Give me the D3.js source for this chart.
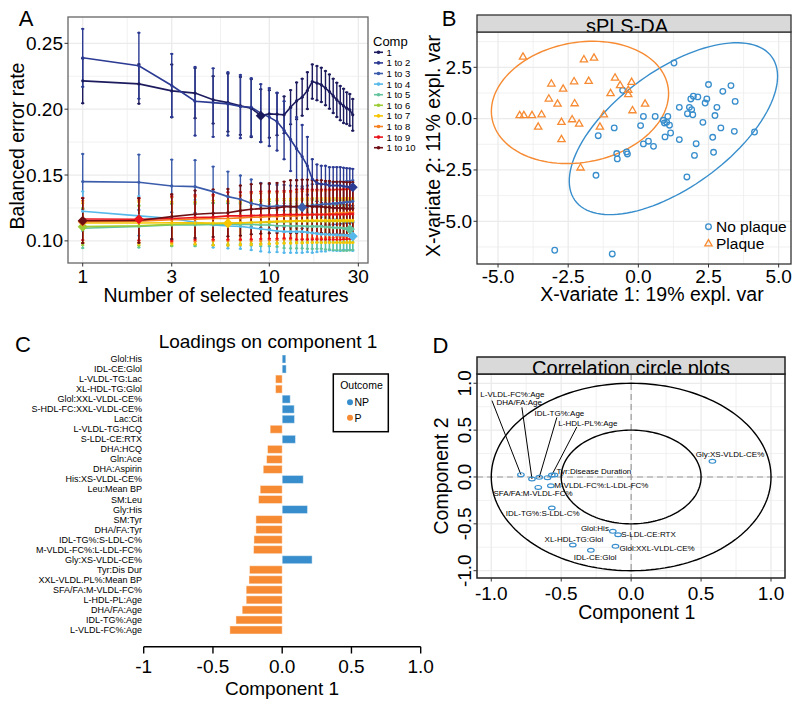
<!DOCTYPE html>
<html><head><meta charset="utf-8">
<script src="https://cdn.jsdelivr.net/npm/d3@7"></script>
<style>body{margin:0;background:#fff}svg{display:block}text{font-family:"Liberation Sans",Arial,Helvetica,sans-serif}</style>
</head><body><svg id="c" width="800" height="705"></svg>
<script>
// ================= DATA =================
// ---- Panel A: tuning curves ----
const nFeatures = [1,2,3,4,5,6,7,8,9,10,11,12,13,14,15,16,17,18,19,20,21,22,23,24,25,26,27,28];
const compNames = ["1","1 to 2","1 to 3","1 to 4","1 to 5","1 to 6","1 to 7","1 to 8","1 to 9","1 to 10"];
const compColors = ["#1c1b5e","#2b3a92","#3b5cab","#56b9ea","#62c39c","#9ccc35","#f7c500","#f5801f","#e8141c","#6e0f14"];
const ber1 = [0.2215,0.2192,0.2139,0.2122,0.2071,0.2050,0.2025,0.2008,0.1951,0.1964,0.1962,0.1957,0.2015,0.2063,0.2091,0.2141,0.2210,0.2198,0.2185,0.2160,0.2134,0.2101,0.2071,0.2046,0.2025,0.2008,0.1995,0.1957];
const ber2 = [0.239,0.233,0.218,0.206,0.205,0.204,0.202,0.2015,0.197,0.194,0.1906,0.184,0.177,0.170,0.164,0.157,0.147,0.144,0.143,0.143,0.142,0.142,0.142,0.142,0.1415,0.1412,0.1410,0.1407];
const ber3 = [0.145,0.1445,0.1417,0.1412,0.1374,0.1336,0.1316,0.1286,0.127,0.126,0.1265,0.1265,0.126,0.1258,0.1255,0.126,0.127,0.127,0.1275,0.128,0.128,0.1285,0.1285,0.129,0.129,0.1295,0.1295,0.130];
const ber4 = [0.1225,0.119,0.117,0.1141,0.112,0.1113,0.111,0.110,0.109,0.1083,0.1075,0.107,0.107,0.107,0.107,0.1065,0.106,0.1055,0.105,0.105,0.1048,0.1046,0.1045,0.1044,0.1043,0.1042,0.1041,0.1035];
const ber5 = [0.1096,0.111,0.112,0.112,0.1125,0.1125,0.1125,0.1125,0.112,0.112,0.1115,0.1115,0.1113,0.1113,0.1113,0.111,0.111,0.111,0.111,0.1105,0.1105,0.110,0.110,0.110,0.1095,0.1095,0.1088,0.1092];
const ber6 = [0.1108,0.1115,0.1125,0.113,0.113,0.1135,0.1135,0.114,0.114,0.114,0.1145,0.1145,0.1145,0.115,0.115,0.115,0.115,0.115,0.115,0.115,0.115,0.115,0.115,0.115,0.115,0.115,0.115,0.115];
const ber7 = [0.1136,0.1136,0.1138,0.1137,0.1136,0.1134,0.1138,0.114,0.1142,0.1146,0.1148,0.115,0.115,0.1152,0.1152,0.1155,0.1155,0.1155,0.1155,0.1155,0.1155,0.1155,0.1155,0.1155,0.1155,0.1155,0.1155,0.1155];
const ber8 = [0.1145,0.115,0.116,0.1165,0.117,0.117,0.1175,0.118,0.118,0.1185,0.1185,0.119,0.119,0.119,0.1195,0.1195,0.12,0.12,0.12,0.12,0.1205,0.1205,0.121,0.121,0.121,0.121,0.1215,0.1215];
const ber9 = [0.1166,0.1164,0.117,0.1178,0.118,0.119,0.119,0.1192,0.1195,0.1197,0.1197,0.12,0.12,0.12,0.120,0.120,0.120,0.120,0.120,0.120,0.120,0.120,0.120,0.120,0.1202,0.1202,0.1205,0.1205];
const ber10 = [0.1153,0.1155,0.1184,0.1202,0.121,0.1214,0.123,0.124,0.1245,0.1248,0.125,0.126,0.126,0.126,0.1265,0.1265,0.126,0.126,0.126,0.1255,0.1255,0.125,0.125,0.125,0.1248,0.1245,0.1245,0.1245];
const sd1 = [0.017,0.015,0.020,0.019,0.018,0.022,0.022,0.022,0.020,0.018,0.016,0.014,0.013,0.014,0.014,0.014,0.013,0.013,0.013,0.013,0.013,0.013,0.013,0.013,0.013,0.012,0.012,0.012];
const sd2 = [0.022,0.025,0.024,0.026,0.026,0.024,0.024,0.022,0.022,0.022,0.022,0.022,0.024,0.024,0.024,0.022,0.015,0.014,0.014,0.014,0.014,0.014,0.014,0.014,0.014,0.014,0.014,0.014];
const sd3 = [0.021,0.021,0.020,0.020,0.019,0.019,0.018,0.018,0.017,0.017,0.016,0.016,0.016,0.016,0.016,0.016,0.016,0.016,0.016,0.016,0.016,0.016,0.016,0.016,0.016,0.016,0.016,0.016];
const sd4 = [0.015,0.015,0.016,0.017,0.017,0.017,0.017,0.017,0.017,0.017,0.016,0.016,0.016,0.016,0.016,0.015,0.015,0.014,0.013,0.013,0.012,0.012,0.012,0.012,0.011,0.011,0.011,0.011];
const sd5 = [0.015,0.016,0.016,0.016,0.016,0.016,0.016,0.016,0.016,0.016,0.016,0.017,0.017,0.017,0.017,0.017,0.017,0.017,0.017,0.017,0.017,0.017,0.017,0.017,0.017,0.017,0.016,0.016];
const sd6 = [0.014,0.015,0.016,0.016,0.016,0.016,0.016,0.016,0.016,0.016,0.016,0.016,0.016,0.016,0.016,0.016,0.016,0.016,0.016,0.016,0.016,0.016,0.016,0.016,0.016,0.016,0.016,0.016];
const sd7 = [0.015,0.016,0.016,0.016,0.017,0.017,0.017,0.017,0.017,0.017,0.017,0.017,0.017,0.017,0.017,0.017,0.017,0.017,0.017,0.017,0.017,0.017,0.017,0.017,0.017,0.017,0.017,0.017];
const sd8 = [0.016,0.016,0.017,0.017,0.017,0.017,0.017,0.018,0.018,0.018,0.018,0.018,0.018,0.018,0.018,0.018,0.018,0.018,0.018,0.018,0.018,0.018,0.018,0.018,0.018,0.018,0.018,0.018];
const sd9 = [0.016,0.016,0.017,0.017,0.017,0.018,0.018,0.018,0.018,0.018,0.018,0.018,0.018,0.019,0.019,0.019,0.019,0.019,0.019,0.019,0.019,0.019,0.019,0.019,0.019,0.019,0.019,0.019];
const sd10 = [0.017,0.017,0.017,0.018,0.018,0.018,0.019,0.019,0.019,0.019,0.019,0.019,0.020,0.020,0.020,0.020,0.020,0.020,0.020,0.020,0.020,0.020,0.020,0.020,0.020,0.020,0.020,0.020];
const optimalKeepX = [9,28,15,28,27,1,6,1,2,1];
const aXTicks = [1,3,10,30];
const aYTicks = [0.10,0.15,0.20,0.25];

// ---- Panel B: sPLS-DA samples ----
const noPlaqueX = [1.27,2.50,3.30,3.01,3.45,1.96,2.12,1.87,2.44,2.38,1.46,1.82,1.90,2.80,1.75,1.94,2.73,2.30,2.94,3.42,4.14,2.65,2.06,2.00,2.68,1.73,1.46,1.15,1.11,1.01,1.05,0.89,0.93,0.95,0.60,0.18,0.08,0.36,0.18,0.54,-0.86,-1.43,-0.77,-0.75,-0.42,-0.39,-1.51,-2.98,-0.93,-0.56];
const noPlaqueY = [2.71,1.66,1.61,1.33,0.84,1.09,1.06,0.96,0.96,0.76,0.55,0.55,0.44,0.55,0.24,0.19,0.15,-0.18,-0.45,-0.62,-0.65,-0.91,-1.22,-1.79,-1.64,-2.84,-1.02,-0.70,-0.32,-0.18,0.11,-0.08,-0.21,-0.89,0.11,0.11,-0.34,-1.10,-1.23,-1.35,-0.45,-0.83,-1.70,-1.96,-1.62,-1.72,-2.76,-6.41,-6.59,1.38];
const plaqueX = [-4.11,-1.94,-1.58,-3.10,-2.68,-2.29,-1.77,-0.83,-0.65,-0.24,-0.36,-0.36,-0.99,-3.19,-2.88,-2.27,0.24,-0.21,-1.23,-4.23,-4.08,-3.79,-3.45,-3.57,-2.74,-2.36,-2.11,-1.37,-2.74,-2.06];
const plaqueY = [3.00,2.87,2.95,1.69,1.44,1.80,1.82,1.98,1.61,1.77,1.38,1.17,1.22,0.96,0.71,0.73,0.71,0.39,0.19,0.15,0.15,0.15,0.19,-0.41,-0.18,-0.05,-0.26,-0.41,-1.02,-2.40];
// ellipses: [centerX, centerY, semiMajor, semiMinor, angleDeg]
const ellipseNoPlaque = [1.25,-0.49,5.03,2.45,50.6];
const ellipsePlaque = [-2.08,0.79,3.30,2.82,34];
const bXTicks = [-5.0,-2.5,0.0,2.5,5.0];
const bYTicks = [-5.0,-2.5,0.0,2.5];

// ---- Panel C: loadings ----
const loadingVars = ["Glol:His","IDL-CE:Glol","L-VLDL-TG:Lac","XL-HDL-TG:Glol","Glol:XXL-VLDL-CE%","S-HDL-FC:XXL-VLDL-CE%","Lac:Cit","L-VLDL-TG:HCQ","S-LDL-CE:RTX","DHA:HCQ","Gln:Ace","DHA:Aspirin","His:XS-VLDL-CE%","Leu:Mean BP","SM:Leu","Gly:His","SM:Tyr","DHA/FA:Tyr","IDL-TG%:S-LDL-C%","M-VLDL-FC%:L-LDL-FC%","Gly:XS-VLDL-CE%","Tyr:Dis Dur","XXL-VLDL.PL%:Mean BP","SFA/FA:M-VLDL-FC%","L-HDL-PL:Age","DHA/FA:Age","IDL-TG%:Age","L-VLDL-FC%:Age"];
const loadingValues = [0.026,0.029,-0.048,-0.048,0.058,0.087,0.089,-0.087,0.096,-0.106,-0.113,-0.137,0.152,-0.159,-0.171,0.183,-0.190,-0.190,-0.204,-0.207,0.216,-0.236,-0.240,-0.260,-0.260,-0.289,-0.334,-0.378];
const loadingOutcome = ["NP","NP","P","P","NP","NP","NP","P","NP","P","P","P","NP","P","P","NP","P","P","P","P","NP","P","P","P","P","P","P","P"];
const cTicks = [-1,-0.5,0,0.5,1];
const cTickLabels = ["-1","-0.5","0.0","0.5","1.0"];

// ---- Panel D: correlation circle ----
const corrVars = ["L-VLDL-FC%:Age","DHA/FA:Age","IDL-TG%:Age","","L-HDL-PL%:Age","Tyr:Disease Duration","SFA/FA:M-VLDL-FC%","M-VLDL-FC%:L-LDL-FC%","IDL-TG%:S-LDL-C%","Glol:His","S-LDL-CE:RTX","Glol:XXL-VLDL-CE%","XL-HDL-TG:Glol","IDL-CE:Glol","Gly:XS-VLDL-CE%"];
const corrX = [-0.788,-0.709,-0.657,-0.598,-0.567,-0.548,-0.664,-0.574,-0.567,-0.131,-0.093,-0.112,-0.417,-0.288,0.581];
const corrY = [0.025,-0.021,-0.004,-0.007,0.021,0.021,-0.111,-0.093,-0.331,-0.580,-0.616,-0.740,-0.726,-0.783,0.167];
const labelX = [-0.849,-0.800,-0.513,0,-0.309,-0.266,-0.701,-0.213,-0.632,-0.259,0.124,0.186,-0.409,-0.257,0.707];
const labelY = [0.878,0.793,0.676,0,0.576,0.060,-0.175,-0.093,-0.395,-0.555,-0.616,-0.765,-0.669,-0.854,0.238];
const leaderX = [-0.995,-0.781,-0.531,null,-0.388,null,null,null,null,null,null,null,null,null,null];
const leaderY = [0.815,0.743,0.636,null,0.534,null,null,null,null,null,null,null,null,null,null];
const dTicks = [-1.0,-0.5,0.0,0.5,1.0];

// ================= DRAWING =================
const svg = d3.select("#c");
svg.append("rect").attr("width",800).attr("height",705).attr("fill","#fff");
const BLUE = "#388ECC", ORANGE = "#F68B33";
const fmt1 = v => d3.format(".1f")(v).replace("\u2212", "-");

function text(g, x, y, s, size, anchor, extra) {
  const t = g.append("text").attr("x", x).attr("y", y).attr("font-size", size)
    .attr("text-anchor", anchor || "middle").attr("dominant-baseline", "central").attr("fill", "#000").text(s);
  if (extra) extra(t);
  return t;
}
function vtext(g, x, y, s, size) {
  return g.append("text").attr("transform", `translate(${x},${y}) rotate(-90)`).attr("font-size", size)
    .attr("text-anchor", "middle").attr("dominant-baseline", "central").attr("fill", "#000").text(s);
}
function grid(g, xs, ys, box, xMajor, xMinor, yMajor, yMinor) {
  const gg = g.append("g");
  [[xMinor, 0.7], [xMajor, 1.3]].forEach(([vals, w]) => vals.forEach(v => gg.append("line")
    .attr("x1", xs(v)).attr("x2", xs(v)).attr("y1", box.t).attr("y2", box.b).attr("stroke", "#ebebeb").attr("stroke-width", w)));
  [[yMinor, 0.7], [yMajor, 1.3]].forEach(([vals, w]) => vals.forEach(v => gg.append("line")
    .attr("y1", ys(v)).attr("y2", ys(v)).attr("x1", box.l).attr("x2", box.r).attr("stroke", "#ebebeb").attr("stroke-width", w)));
}
function clip(id, box) {
  svg.append("clipPath").attr("id", id).append("rect").attr("x", box.l).attr("y", box.t)
    .attr("width", box.r - box.l).attr("height", box.b - box.t);
}

// ---------- Panel A ----------
{
  const box = {l:68, r:368, t:17, b:263};
  const xs = d3.scaleLog().domain([0.834, 33.8]).range([box.l, box.r]);
  const ys = d3.scaleLinear().domain([0.0832, 0.270]).range([box.b, box.t]);
  const g = svg.append("g");
  grid(g, xs, ys, box, aXTicks, [1.732, 5.477, 17.32], aYTicks, [0.125, 0.175, 0.225]);
  clip("clipA", box);
  const bers = [ber1,ber2,ber3,ber4,ber5,ber6,ber7,ber8,ber9,ber10];
  const sds = [sd1,sd2,sd3,sd4,sd5,sd6,sd7,sd8,sd9,sd10];
  const series = compNames.map((n, i) => ({name: n, color: compColors[i],
    pts: nFeatures.map((k, j) => ({k, v: bers[i][j], sd: sds[i][j]}))}));
  const pg = g.append("g").attr("clip-path", "url(#clipA)");
  series.forEach(s => {
    const eg = pg.append("g").attr("stroke", s.color).attr("stroke-width", 1.4);
    s.pts.forEach(p => {
      const x = xs(p.k), y1 = ys(p.v - p.sd), y2 = ys(p.v + p.sd);
      eg.append("line").attr("x1", x).attr("x2", x).attr("y1", y1).attr("y2", y2);
      eg.append("line").attr("x1", x - 1.6).attr("x2", x + 1.6).attr("y1", y1).attr("y2", y1);
      eg.append("line").attr("x1", x - 1.6).attr("x2", x + 1.6).attr("y1", y2).attr("y2", y2);
      eg.append("circle").attr("cx", x).attr("cy", y1).attr("r", 1.2).attr("fill", s.color).attr("stroke", "none");
      eg.append("circle").attr("cx", x).attr("cy", y2).attr("r", 1.2).attr("fill", s.color).attr("stroke", "none");
    });
  });
  const line = d3.line().x(p => xs(p.k)).y(p => ys(p.v));
  series.forEach(s => pg.append("path").attr("d", line(s.pts)).attr("fill", "none")
    .attr("stroke", s.color).attr("stroke-width", 1.6));
  series.forEach(s => s.pts.forEach(p => pg.append("circle").attr("cx", xs(p.k)).attr("cy", ys(p.v))
    .attr("r", 1.6).attr("fill", s.color)));
  const diamond = (x, y, r) => `M${x},${y - r}L${x + r},${y}L${x},${y + r}L${x - r},${y}Z`;
  series.forEach((s, i) => {
    const p = s.pts[nFeatures.indexOf(optimalKeepX[i])];
    pg.append("path").attr("d", diamond(xs(p.k), ys(p.v), 5)).attr("fill", s.color);
  });
  g.append("rect").attr("x", box.l).attr("y", box.t).attr("width", box.r - box.l).attr("height", box.b - box.t)
    .attr("fill", "none").attr("stroke", "#666").attr("stroke-width", 1.3);
  aYTicks.forEach(v => {
    g.append("line").attr("x1", box.l - 3.5).attr("x2", box.l).attr("y1", ys(v)).attr("y2", ys(v)).attr("stroke", "#333");
    text(g, box.l - 5, ys(v), d3.format(".2f")(v), 19, "end");
  });
  aXTicks.forEach(v => {
    g.append("line").attr("x1", xs(v)).attr("x2", xs(v)).attr("y1", box.b).attr("y2", box.b + 3.5).attr("stroke", "#333");
    text(g, xs(v), 276, String(v), 19);
  });
  text(g, 226, 295, "Number of selected features", 19.5);
  vtext(g, 17, 146, "Balanced error rate", 19.5);
  text(g, 373, 41, "Comp", 13, "start");
  compNames.forEach((n, i) => {
    const y = 52.3 + i * 10.6;
    g.append("line").attr("x1", 374).attr("x2", 383).attr("y1", y).attr("y2", y).attr("stroke", compColors[i]).attr("stroke-width", 1.6);
    g.append("circle").attr("cx", 378.5).attr("cy", y).attr("r", 1.8).attr("fill", compColors[i]);
    text(g, 386.5, y, n, 9.5, "start");
  });
  text(g, 26, 18, "A", 22);
}

// ---------- Panel B ----------
{
  const box = {l:477, r:791, t:32, b:264};
  const xs = d3.scaleLinear().domain([-5.75, 5.44]).range([box.l, box.r]);
  const ys = d3.scaleLinear().domain([-7.08, 4.22]).range([box.b, box.t]);
  const g = svg.append("g");
  grid(g, xs, ys, box, bXTicks, [-3.75,-1.25,1.25,3.75], bYTicks, [-6.25,-3.75,-1.25,1.25,3.75]);
  clip("clipB", box);
  const pg = g.append("g").attr("clip-path", "url(#clipB)");
  function ellipsePath(e) {
    const [cx, cy, a, b, ang] = e, t = ang * Math.PI / 180;
    const pts = d3.range(0, 361, 3).map(d => {
      const u = d * Math.PI / 180, ex = a * Math.cos(u), ey = b * Math.sin(u);
      return [xs(cx + ex * Math.cos(t) - ey * Math.sin(t)), ys(cy + ex * Math.sin(t) + ey * Math.cos(t))];
    });
    return d3.line()(pts);
  }
  pg.append("path").attr("d", ellipsePath(ellipseNoPlaque)).attr("fill", "none").attr("stroke", BLUE).attr("stroke-width", 1.4);
  pg.append("path").attr("d", ellipsePath(ellipsePlaque)).attr("fill", "none").attr("stroke", ORANGE).attr("stroke-width", 1.4);
  const tri = (x, y, r) => `M${x},${y - r}L${x + r * 0.87},${y + r * 0.5}L${x - r * 0.87},${y + r * 0.5}Z`;
  noPlaqueX.forEach((x, i) => pg.append("circle").attr("cx", xs(x)).attr("cy", ys(noPlaqueY[i])).attr("r", 2.8)
    .attr("fill", "none").attr("stroke", BLUE).attr("stroke-width", 1.3));
  plaqueX.forEach((x, i) => pg.append("path").attr("d", tri(xs(x), ys(plaqueY[i]), 4.2))
    .attr("fill", "none").attr("stroke", ORANGE).attr("stroke-width", 1.3));
  g.append("circle").attr("cx", 708.5).attr("cy", 226.7).attr("r", 2.8).attr("fill", "none").attr("stroke", BLUE).attr("stroke-width", 1.3);
  text(g, 716, 226.7, "No plaque", 15.5, "start");
  g.append("path").attr("d", tri(708.5, 243.8, 4.2)).attr("fill", "none").attr("stroke", ORANGE).attr("stroke-width", 1.3);
  text(g, 716, 243.3, "Plaque", 15.5, "start");
  g.append("rect").attr("x", box.l).attr("y", box.t).attr("width", box.r - box.l).attr("height", box.b - box.t)
    .attr("fill", "none").attr("stroke", "#333").attr("stroke-width", 1.3);
  g.append("rect").attr("x", box.l).attr("y", 15).attr("width", box.r - box.l).attr("height", 17).attr("fill", "#d9d9d9");
  svg.append("clipPath").attr("id", "clipBs").append("rect").attr("x", box.l).attr("y", 15).attr("width", box.r - box.l).attr("height", 17);
  g.append("text").attr("x", 627).attr("y", 33).attr("font-size", 20).attr("text-anchor", "middle")
    .attr("clip-path", "url(#clipBs)").text("sPLS-DA");
  g.append("rect").attr("x", box.l).attr("y", 15).attr("width", box.r - box.l).attr("height", 17)
    .attr("fill", "none").attr("stroke", "#333").attr("stroke-width", 1.3);
  bXTicks.forEach(v => {
    g.append("line").attr("x1", xs(v)).attr("x2", xs(v)).attr("y1", box.b).attr("y2", box.b + 3.5).attr("stroke", "#333");
    text(g, xs(v), 276, fmt1(v), 19);
  });
  bYTicks.forEach(v => {
    g.append("line").attr("x1", box.l - 3.5).attr("x2", box.l).attr("y1", ys(v)).attr("y2", ys(v)).attr("stroke", "#333");
    text(g, box.l - 5, ys(v), fmt1(v), 19, "end");
  });
  text(g, 652, 294, "X-variate 1: 19% expl. var", 19.5);
  vtext(g, 433, 146, "X-variate 2: 11% expl. var", 19.5);
  text(g, 449, 18, "B", 22);
}

// ---------- Panel C ----------
{
  const g = svg.append("g");
  const xs = d3.scaleLinear().domain([-1, 1]).range([143.7, 420.7]);
  const ys = d3.scaleBand().domain(loadingVars).range([353, 636]).padding(0.2);
  loadingVars.forEach((v, i) => {
    const val = loadingValues[i];
    g.append("rect").attr("x", xs(Math.min(0, val))).attr("y", ys(v))
      .attr("width", Math.abs(xs(val) - xs(0))).attr("height", ys.bandwidth())
      .attr("fill", loadingOutcome[i] === "NP" ? BLUE : ORANGE)
      .attr("stroke", "#fff").attr("stroke-opacity", 0.45).attr("stroke-width", 1);
    text(g, 142, ys(v) + ys.bandwidth() / 2, v, 9, "end");
  });
  g.append("line").attr("x1", xs(-1)).attr("x2", xs(1)).attr("y1", 646.7).attr("y2", 646.7).attr("stroke", "#000").attr("stroke-width", 1.4);
  cTicks.forEach((v, i) => {
    g.append("line").attr("x1", xs(v)).attr("x2", xs(v)).attr("y1", 646.7).attr("y2", 653.5).attr("stroke", "#000").attr("stroke-width", 1.4);
    text(g, xs(v), 666.5, cTickLabels[i], 19);
  });
  text(g, 282, 688, "Component 1", 19);
  text(g, 268, 341.7, "Loadings on component 1", 19);
  g.append("rect").attr("x", 333.3).attr("y", 374).attr("width", 55).attr("height", 57.7).attr("fill", "#fff").attr("stroke", "#000").attr("stroke-width", 1.5);
  text(g, 361.5, 385.3, "Outcome", 10.5);
  g.append("circle").attr("cx", 350).attr("cy", 402.3).attr("r", 3).attr("fill", BLUE);
  text(g, 354.5, 402.3, "NP", 10.5, "start");
  g.append("circle").attr("cx", 350).attr("cy", 417.7).attr("r", 3).attr("fill", ORANGE);
  text(g, 354.5, 417.7, "P", 10.5, "start");
  text(g, 23, 344, "C", 22);
}

// ---------- Panel D ----------
{
  const box = {l:477, r:785, t:374, b:578};
  const xs = d3.scaleLinear().domain([-1.102, 1.10]).range([box.l, box.r]);
  const ys = d3.scaleLinear().domain([-1.078, 1.099]).range([box.b, box.t]);
  const g = svg.append("g");
  grid(g, xs, ys, box, dTicks, [-0.75,-0.25,0.25,0.75], dTicks, [-0.75,-0.25,0.25,0.75]);
  g.append("line").attr("x1", xs(0)).attr("x2", xs(0)).attr("y1", box.t).attr("y2", box.b).attr("stroke", "#9a9a9a").attr("stroke-width", 1.2).attr("stroke-dasharray", "6,4");
  g.append("line").attr("x1", box.l).attr("x2", box.r).attr("y1", ys(0)).attr("y2", ys(0)).attr("stroke", "#9a9a9a").attr("stroke-width", 1.2).attr("stroke-dasharray", "6,4");
  const circ = r => d3.line()(d3.range(0, 361, 2).map(d => [xs(r * Math.cos(d * Math.PI / 180)), ys(r * Math.sin(d * Math.PI / 180))]));
  g.append("path").attr("d", circ(1)).attr("fill", "none").attr("stroke", "#000").attr("stroke-width", 1.4);
  g.append("path").attr("d", circ(0.5)).attr("fill", "none").attr("stroke", "#000").attr("stroke-width", 1.4);
  corrX.forEach((x, i) => {
    if (leaderX[i] !== null) g.append("line").attr("x1", xs(leaderX[i])).attr("y1", ys(leaderY[i]))
      .attr("x2", xs(x)).attr("y2", ys(corrY[i])).attr("stroke", "#000").attr("stroke-width", 1);
  });
  corrX.forEach((x, i) => g.append("ellipse").attr("cx", xs(x)).attr("cy", ys(corrY[i])).attr("rx", 3.3).attr("ry", 1.9)
    .attr("fill", "none").attr("stroke", BLUE).attr("stroke-width", 1.2));
  corrVars.forEach((v, i) => { if (v) text(g, xs(labelX[i]), ys(labelY[i]), v, 8); });
  g.append("rect").attr("x", box.l).attr("y", box.t).attr("width", box.r - box.l).attr("height", box.b - box.t)
    .attr("fill", "none").attr("stroke", "#222").attr("stroke-width", 1.5);
  g.append("rect").attr("x", box.l).attr("y", 357).attr("width", box.r - box.l).attr("height", 17).attr("fill", "#d9d9d9");
  svg.append("clipPath").attr("id", "clipDs").append("rect").attr("x", box.l).attr("y", 357).attr("width", box.r - box.l).attr("height", 17);
  g.append("text").attr("x", 631).attr("y", 374.5).attr("font-size", 20).attr("text-anchor", "middle")
    .attr("clip-path", "url(#clipDs)").text("Correlation circle plots");
  g.append("rect").attr("x", box.l).attr("y", 357).attr("width", box.r - box.l).attr("height", 17)
    .attr("fill", "none").attr("stroke", "#222").attr("stroke-width", 1.5);
  dTicks.forEach(v => {
    g.append("line").attr("x1", xs(v)).attr("x2", xs(v)).attr("y1", box.b).attr("y2", box.b + 3.5).attr("stroke", "#333");
    text(g, xs(v), 593, fmt1(v), 19);
    g.append("line").attr("x1", box.l - 3.5).attr("x2", box.l).attr("y1", ys(v)).attr("y2", ys(v)).attr("stroke", "#333");
    vtext(g, 464.3, ys(v), fmt1(v), 19);
  });
  text(g, 636.7, 611.7, "Component 1", 19.5);
  vtext(g, 440.7, 476, "Component 2", 19.5);
  text(g, 440.5, 345.5, "D", 22);
}
</script></body></html>
